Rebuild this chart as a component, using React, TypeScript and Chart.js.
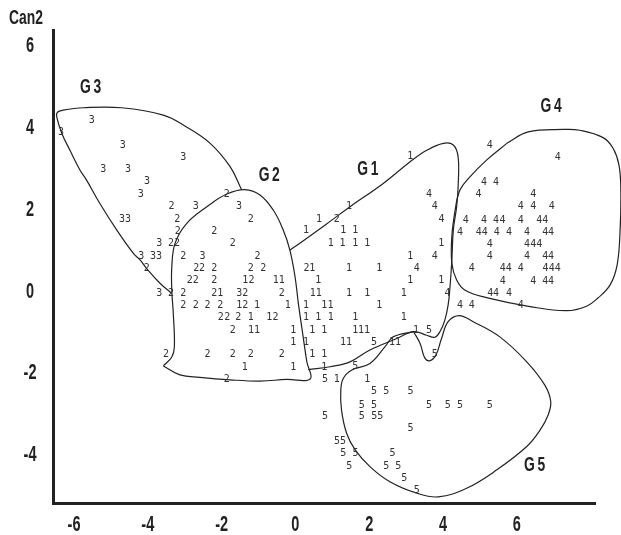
import React, { useEffect, useRef } from 'react';
import { Chart, registerables } from 'chart.js';

Chart.register(...registerables);

// Axis ticks
const xTicks = [-6, -4, -2, 0, 2, 4, 6];
const yTicks = [-4, -2, 0, 2, 4, 6];
const xRange = [-6.57, 8.12];
const yRange = [-5.17, 6.39];
const yTitle = 'Can2';

// Observations (canonical scores) by group, labelled with their group digit
const obs1: [number, number][] = [
  [3.11, 3.29], [1.45, 2.09], [0.64, 1.76], [0.29, 1.48], [1.3, 1.48], [1.62, 1.48],
  [0.96, 1.18], [1.28, 1.18], [1.62, 1.18], [1.95, 1.18], [3.95, 1.18], [3.11, 0.86],
  [0.46, 0.56], [1.45, 0.56], [2.27, 0.56], [-1.36, 0.28], [-0.53, 0.28], [-0.37, 0.28],
  [0.62, 0.26], [3.11, 0.26], [3.95, 0.26], [-2.04, -0.05], [0.47, -0.05], [0.63, -0.05],
  [1.45, -0.05], [1.95, -0.05], [2.94, -0.05], [-1.52, -0.33], [-1.04, -0.33], [-0.21, -0.33],
  [0.29, -0.33], [0.78, -0.33], [0.95, -0.33], [2.27, -0.33], [-1.21, -0.63], [-0.71, -0.63],
  [0.29, -0.64], [0.62, -0.64], [0.96, -0.64], [1.62, -0.64], [2.94, -0.64], [-1.2, -0.96],
  [-1.04, -0.96], [-0.06, -0.96], [0.46, -0.94], [0.78, -0.94], [1.62, -0.94], [1.78, -0.94],
  [1.94, -0.94], [3.27, -0.94], [-0.06, -1.24], [0.29, -1.24], [1.29, -1.24], [1.45, -1.24],
  [2.62, -1.24], [2.78, -1.24], [0.46, -1.54], [0.78, -1.54], [-1.37, -1.86], [-0.06, -1.86],
  [0.78, -1.85], [1.12, -2.16], [1.95, -2.16],
];
const obs2: [number, number][] = [
  [-1.86, 2.38], [-3.36, 2.07], [-3.2, 1.77], [-1.21, 1.76], [-3.19, 1.46], [-2.2, 1.46],
  [-1.7, 1.18], [-3.37, 1.18], [-3.21, 1.18], [-3.04, 0.85], [-1.03, 0.85], [-4.03, 0.56],
  [-2.69, 0.56], [-2.53, 0.56], [-2.2, 0.56], [-1.21, 0.56], [-0.87, 0.56], [-2.86, 0.28],
  [-2.7, 0.28], [-2.2, 0.28], [-1.19, 0.28], [-3.37, -0.05], [-3.04, -0.05], [-2.2, -0.05],
  [-1.36, -0.05], [-0.37, -0.05], [-3.04, -0.33], [-2.7, -0.33], [-2.38, -0.33], [-2.04, -0.33],
  [-1.36, -0.33], [-2.02, -0.63], [-1.85, -0.63], [-1.55, -0.63], [-0.54, -0.63], [-1.7, -0.96],
  [-3.51, -1.54], [-2.38, -1.54], [-1.7, -1.54], [-1.21, -1.54], [-0.37, -1.54], [-1.86, -2.15],
  [0.3, 0.56], [1.12, 1.76],
];
const obs3: [number, number][] = [
  [-5.52, 4.17], [-6.35, 3.89], [-4.68, 3.58], [-3.04, 3.28], [-5.21, 2.98], [-4.54, 2.98],
  [-4.02, 2.68], [-4.19, 2.37], [-2.7, 2.07], [-1.53, 2.09], [-4.7, 1.77], [-4.54, 1.77],
  [-3.69, 1.18], [-4.18, 0.85], [-3.86, 0.85], [-3.7, 0.85], [-2.52, 0.85], [-3.69, -0.05],
  [-1.52, -0.05],
];
const obs4: [number, number][] = [
  [5.27, 3.56], [7.11, 3.27], [5.11, 2.67], [5.44, 2.67], [3.62, 2.37], [4.96, 2.36],
  [6.45, 2.36], [3.78, 2.07], [6.11, 2.07], [6.45, 2.07], [6.95, 2.07], [3.96, 1.76],
  [4.62, 1.74], [5.11, 1.74], [5.44, 1.74], [5.61, 1.74], [6.11, 1.74], [6.61, 1.74],
  [6.77, 1.74], [4.46, 1.44], [4.97, 1.44], [5.13, 1.44], [5.46, 1.44], [5.79, 1.44],
  [6.28, 1.44], [6.77, 1.44], [6.93, 1.44], [5.27, 1.16], [6.28, 1.16], [6.45, 1.16],
  [6.61, 1.16], [3.78, 0.86], [5.27, 0.85], [6.28, 0.85], [6.77, 0.85], [6.93, 0.85],
  [3.29, 0.56], [4.78, 0.56], [5.62, 0.56], [5.78, 0.56], [6.11, 0.56], [6.78, 0.56],
  [6.95, 0.56], [7.11, 0.56], [5.62, 0.25], [6.45, 0.25], [6.77, 0.25], [6.93, 0.25],
  [4.12, -0.05], [5.28, -0.05], [5.44, -0.05], [5.79, -0.05], [4.46, -0.33], [4.78, -0.33],
  [6.11, -0.33],
];
const obs5: [number, number][] = [
  [3.62, -0.94], [2.13, -1.24], [3.78, -1.54], [1.62, -1.84], [0.8, -2.16], [2.13, -2.45],
  [2.46, -2.45], [3.12, -2.45], [1.8, -2.78], [2.13, -2.78], [3.62, -2.78], [4.13, -2.78],
  [4.46, -2.78], [5.27, -2.78], [0.8, -3.06], [1.8, -3.06], [2.14, -3.06], [2.3, -3.06],
  [3.12, -3.34], [1.13, -3.67], [1.29, -3.67], [1.3, -3.97], [1.63, -3.97], [2.63, -3.97],
  [1.46, -4.28], [2.46, -4.28], [2.79, -4.28], [2.95, -4.57], [3.29, -4.87],
];

// Hand-drawn group outlines
const outlineG1: [number, number][] = [
  [-0.15, 1.01], [0.12, 1.18], [0.8, 1.62], [1.48, 2.07], [2.38, 2.64], [3.11, 3.17],
  [3.56, 3.45], [4.01, 3.62], [4.28, 3.58], [4.41, 3.29], [4.41, 2.56], [4.37, 2.07],
  [4.28, 1.5], [4.24, 0.77], [4.19, 0.11], [4.14, -0.33], [4.05, -0.7], [3.92, -0.98],
  [3.78, -1.12], [3.56, -1.07], [3.2, -0.98], [2.75, -1.15], [2.02, -1.43], [1.48, -1.72],
  [0.94, -1.84], [0.35, -1.91],
];
const outlineG2: [number, number][] = [
  [-3.58, -1.82], [-3.35, -1.6], [-3.28, -1.35], [-3.31, -0.54], [-3.35, 0.03], [-3.35, 0.6],
  [-3.26, 1.18], [-2.95, 1.66], [-2.4, 2.07], [-1.86, 2.38], [-1.37, 2.49], [-0.96, 2.36],
  [-0.6, 1.99], [-0.33, 1.5], [-0.15, 1.01], [-0.01, 0.36], [0.08, -0.29], [0.21, -1.11],
  [0.31, -1.72], [0.4, -2.14], [-0.24, -2.15], [-0.96, -2.19], [-1.77, -2.16], [-2.59, -2.1],
  [-3.13, -2.04], [-3.58, -1.82],
];
const outlineG3: [number, number][] = [
  [-3.35, -0.05], [-3.67, 0.2], [-4.03, 0.56], [-4.21, 0.77], [-4.39, 0.93], [-4.84, 1.5],
  [-5.3, 2.15], [-5.66, 2.72], [-5.84, 2.97], [-6.11, 3.45], [-6.33, 3.86], [-6.47, 4.27],
  [-6.45, 4.38], [-6.3, 4.43], [-5.75, 4.49], [-4.71, 4.49], [-3.58, 4.31], [-2.95, 4.02],
  [-2.31, 3.62], [-1.77, 3.05], [-1.46, 2.49],
];
const outlineG4: [number, number][] = [
  [5.73, 3.62], [6.31, 3.9], [7.26, 3.96], [7.71, 3.94], [8.34, 3.76], [8.61, 3.5],
  [8.77, 3.09], [8.82, 2.48], [8.8, 1.5], [8.72, 0.65], [8.53, 0.16], [8.2, -0.16],
  [7.89, -0.36], [7.35, -0.47], [6.36, -0.37], [5.18, -0.15], [4.6, 0.03], [4.37, 0.28],
  [4.24, 0.69], [4.24, 1.34], [4.33, 1.99], [4.46, 2.48], [4.73, 2.8], [5.18, 3.21],
  [5.73, 3.62],
];
const outlineG5: [number, number][] = [
  [3.2, -0.98], [3.38, -1.27], [3.51, -1.63], [3.65, -1.69], [3.81, -1.55], [3.96, -1.15],
  [4.14, -0.74], [4.44, -0.59], [4.82, -0.74], [5.54, -1.11], [6.27, -1.72], [6.76, -2.29],
  [6.92, -2.69], [6.85, -3.02], [6.63, -3.39], [6.27, -3.79], [5.46, -4.36], [4.64, -4.81],
  [3.87, -5.02], [3.29, -4.93], [2.56, -4.65], [2.02, -4.28], [1.62, -3.87], [1.39, -3.47],
  [1.25, -2.9], [1.23, -2.41], [1.3, -2.12], [1.53, -1.92], [2.02, -1.76], [2.43, -1.35],
  [2.65, -1.11], [3.2, -0.98],
];

// Group name annotations
const groupNames = ['G1', 'G2', 'G3', 'G4', 'G5'];
const groupLabelX = [1.97, -0.7, -5.54, 6.94, 6.49];
const groupLabelY = [2.98, 2.83, 4.98, 4.53, -4.25];

const obsSets: [string, [number, number][]][] = [
  ['1', obs1], ['2', obs2], ['3', obs3], ['4', obs4], ['5', obs5],
];
const outlines = [outlineG1, outlineG2, outlineG3, outlineG4, outlineG5];

const AXIS_FONT = "'Liberation Sans', Arial, sans-serif";
const MARK_FONT = "'DejaVu Sans Mono', 'Liberation Mono', monospace";
const INK = '#222';
const SQUEEZE = 0.66;

function condensedText(ctx: CanvasRenderingContext2D, text: string, x: number, y: number) {
  ctx.save();
  ctx.translate(x, y);
  ctx.scale(SQUEEZE, 1);
  ctx.fillText(text, 0, 0);
  ctx.restore();
}

const textMarks = {
  id: 'textMarks',
  afterDraw(chart: any) {
    const ctx = chart.ctx as CanvasRenderingContext2D;
    const xs = chart.scales.x;
    const ys = chart.scales.y;
    const area = chart.chartArea;
    ctx.save();
    ctx.textAlign = 'center';
    ctx.textBaseline = 'middle';
    // observation digits
    chart.data.datasets.forEach((ds: any, i: number) => {
      if (!ds.digit) return;
      const meta = chart.getDatasetMeta(i);
      ctx.font = `10px ${MARK_FONT}`;
      ctx.fillStyle = '#333';
      meta.data.forEach((pt: any) => ctx.fillText(ds.digit, pt.x, pt.y));
    });
    ctx.fillStyle = INK;
    // tick labels (condensed face)
    ctx.font = `bold 22px ${AXIS_FONT}`;
    xs.ticks.forEach((t: any) => {
      condensedText(ctx, String(t.label ?? t.value), xs.getPixelForValue(t.value), area.bottom + 22);
    });
    ys.ticks.forEach((t: any) => {
      condensedText(ctx, String(t.label ?? t.value), area.left - 23, ys.getPixelForValue(t.value));
    });
    // axis title
    ctx.font = `bold 21px ${AXIS_FONT}`;
    condensedText(ctx, yTitle, area.left - 27, area.top - 12);
    // group names
    ctx.font = `bold 21px ${AXIS_FONT}`;
    try { (ctx as any).letterSpacing = '4px'; } catch (e) {}
    groupNames.forEach((n, k) => {
      condensedText(ctx, n, xs.getPixelForValue(groupLabelX[k]) + 1, ys.getPixelForValue(groupLabelY[k]));
    });
    try { (ctx as any).letterSpacing = '0px'; } catch (e) {}
    ctx.restore();
  },
};

export default function App() {
  const ref = useRef<HTMLCanvasElement | null>(null);
  useEffect(() => {
    if (!ref.current) return;
    const datasets: any[] = [];
    outlines.forEach((pts) => {
      datasets.push({
        data: pts.map(([x, y]) => ({ x, y })),
        showLine: true,
        borderColor: INK,
        borderWidth: 1.2,
        pointRadius: 0,
        pointHoverRadius: 0,
        tension: 0.4,
        capBezierPoints: false,
        clip: false,
        fill: false,
      });
    });
    obsSets.forEach(([digit, pts]) => {
      datasets.push({
        digit,
        data: pts.map(([x, y]) => ({ x, y })),
        showLine: false,
        pointRadius: 0,
        pointHoverRadius: 0,
        clip: false,
      });
    });
    const chart = new Chart(ref.current, {
      type: 'scatter',
      data: { datasets },
      options: {
        animation: false,
        responsive: false,
        events: [],
        layout: { padding: { top: 30, right: 26, left: 0, bottom: 0 } },
        plugins: { legend: { display: false }, tooltip: { enabled: false } },
        scales: {
          x: {
            type: 'linear',
            min: xRange[0],
            max: xRange[1],
            grid: { display: false, drawTicks: false },
            border: { display: true, width: 3, color: INK },
            ticks: { display: false, includeBounds: false },
            afterBuildTicks: (s: any) => { s.ticks = xTicks.map((v) => ({ value: v })); },
            afterFit: (s: any) => { s.height = 32; },
          },
          y: {
            type: 'linear',
            min: yRange[0],
            max: yRange[1],
            grid: { display: false, drawTicks: false },
            border: { display: true, width: 3, color: INK },
            ticks: { display: false, includeBounds: false },
            afterBuildTicks: (s: any) => { s.ticks = yTicks.map((v) => ({ value: v })); },
            afterFit: (s: any) => { s.width = 53; },
          },
        },
      },
      plugins: [textMarks],
    } as any);
    return () => chart.destroy();
  }, []);
  return (
    <div style={{ position: 'absolute', left: 0, top: 0, width: 621, height: 535, background: '#fff' }}>
      <canvas ref={ref} width={621} height={535} style={{ display: 'block' }} />
    </div>
  );
}
